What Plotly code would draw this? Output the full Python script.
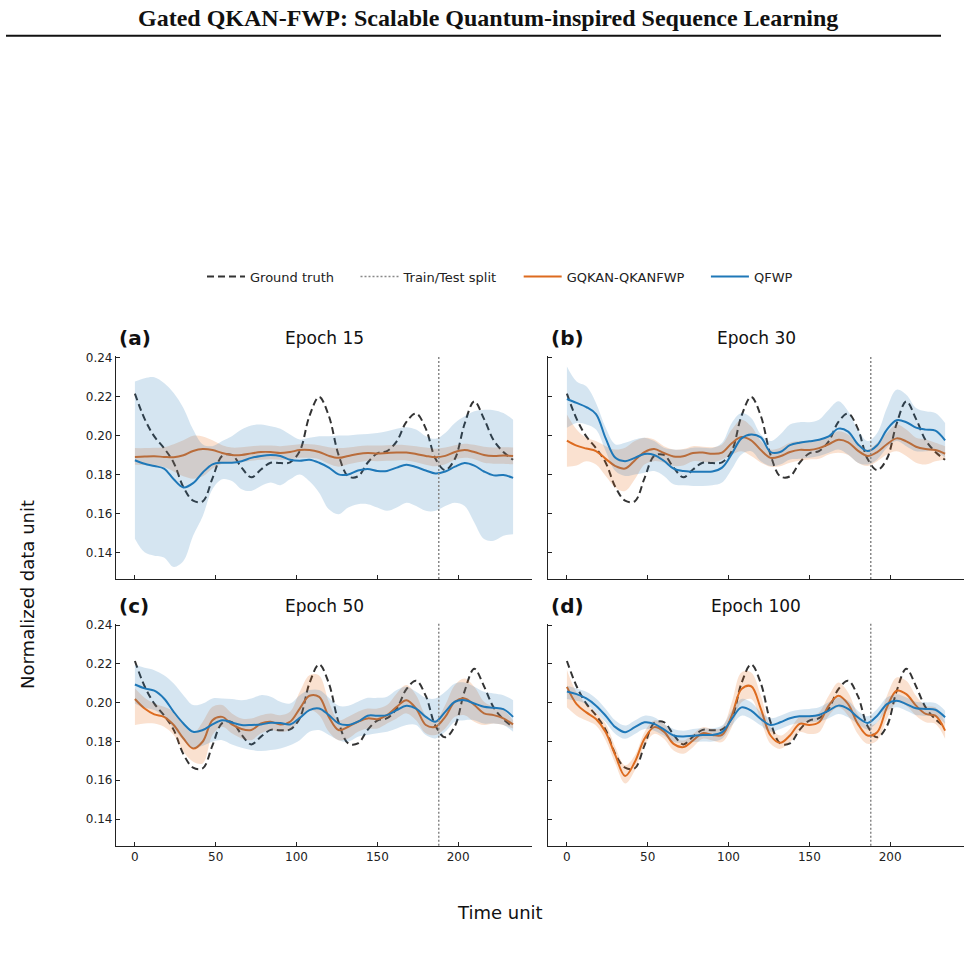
import plotly.graph_objects as go

# ---------------- data ----------------
T = list(range(0, 235, 6))  # time unit samples
SPLIT = 188
X_TICKS = [0, 50, 100, 150, 200]
Y_TICKS = [0.14, 0.16, 0.18, 0.20, 0.22, 0.24]
TITLES = ["Epoch 15", "Epoch 30", "Epoch 50", "Epoch 100"]
LABELS = ["(a)", "(b)", "(c)", "(d)"]

GT = [.2215, .2085, .1995, .1935, .1860, .1735, .1665, .1662, .1780, .1895,
      .1900, .1835, .1785, .1825, .1860, .1858, .1862, .1920, .2100, .2198,
      .2100, .1900, .1790, .1790, .1860, .1908, .1920, .1970, .2070, .2113,
      .2035, .1880, .1822, .1880, .2060, .2175, .2085, .1975, .1915, .1875]

# Panel (a) Epoch 15
A_GQ = [.1890, .1892, .1893, .1890, .1888, .1898, .1920, .1930, .1925, .1910,
        .1900, .1900, .1908, .1915, .1915, .1910, .1915, .1925, .1925, .1915,
        .1895, .1885, .1895, .1905, .1910, .1908, .1910, .1912, .1912, .1905,
        .1895, .1888, .1895, .1915, .1925, .1915, .1900, .1895, .1897, .1895]
A_GQ_HI = [.1935, .1935, .1937, .1940, .1955, .1975, .1998, .1995, .1975, .1950,
           .1938, .1940, .1945, .1948, .1948, .1945, .1950, .1955, .1955, .1950,
           .1940, .1935, .1938, .1945, .1948, .1948, .1950, .1952, .1950, .1945,
           .1938, .1932, .1938, .1950, .1958, .1952, .1942, .1938, .1940, .1938]
A_GQ_LO = [.1850, .1848, .1845, .1838, .1815, .1790, .1778, .1790, .1830, .1855,
           .1860, .1862, .1870, .1875, .1878, .1875, .1878, .1885, .1885, .1878,
           .1855, .1840, .1852, .1862, .1870, .1868, .1870, .1872, .1872, .1862,
           .1850, .1842, .1852, .1875, .1885, .1878, .1860, .1855, .1855, .1852]
A_QF = [.1873, .1855, .1843, .1830, .1775, .1733, .1755, .1810, .1852, .1860,
        .1860, .1868, .1885, .1895, .1900, .1895, .1875, .1870, .1875, .1860,
        .1835, .1800, .1800, .1820, .1828, .1818, .1818, .1835, .1850, .1838,
        .1820, .1805, .1815, .1840, .1858, .1845, .1815, .1795, .1797, .1782]
A_QF_HI = [.2277, .2294, .2299, .2269, .2218, .2141, .2030, .1954, .1945, .1971,
           .1996, .2030, .2051, .2056, .2047, .2034, .2005, .1979, .1988, .1996,
           .1996, .2000, .2000, .2005, .2008, .2013, .2022, .2034, .2042, .2030,
           .1996, .1983, .2013, .2064, .2098, .2124, .2132, .2130, .2115, .2081]
A_QF_LO = [.1470, .1400, .1383, .1374, .1325, .1355, .1485, .1587, .1724, .1775,
           .1766, .1724, .1715, .1741, .1758, .1745, .1775, .1800, .1765, .1706,
           .1621, .1596, .1630, .1647, .1647, .1630, .1613, .1630, .1655, .1638,
           .1613, .1613, .1638, .1655, .1638, .1553, .1468, .1460, .1485, .1493]

# Panel (b) Epoch 30
B_GQ = [.1974, .1948, .1933, .1920, .1880, .1843, .1830, .1872, .1915, .1930,
        .1910, .1892, .1893, .1910, .1912, .1906, .1912, .1960, .1992, .1975,
        .1925, .1885, .1893, .1915, .1926, .1925, .1935, .1955, .1978, .1965,
        .1922, .1895, .1915, .1955, .1985, .1970, .1942, .1930, .1925, .1906]
B_GQ_HI = [.2107, .2030, .1988, .1971, .1945, .1928, .1937, .1971, .1988, .1979,
           .1945, .1928, .1930, .1945, .1942, .1940, .1954, .2030, .2081, .2047,
           .1971, .1928, .1937, .1962, .1971, .1971, .1979, .1996, .2022, .2005,
           .1962, .1928, .1962, .2013, .2056, .2030, .1988, .1979, .1962, .1945]
B_GQ_LO = [.1839, .1846, .1868, .1851, .1792, .1732, .1715, .1775, .1851, .1868,
           .1860, .1843, .1846, .1868, .1865, .1862, .1877, .1902, .1919, .1894,
           .1860, .1839, .1842, .1860, .1870, .1877, .1880, .1902, .1911, .1900,
           .1860, .1843, .1868, .1902, .1919, .1894, .1860, .1851, .1868, .1877]
B_QF = [.2187, .2167, .2146, .2110, .1985, .1885, .1868, .1885, .1905, .1900,
        .1870, .1830, .1817, .1814, .1814, .1815, .1835, .1905, .1985, .2005,
        .1990, .1915, .1915, .1950, .1963, .1970, .1978, .1995, .2035, .2020,
        .1955, .1920, .1950, .2030, .2078, .2068, .2040, .2030, .2025, .1975]
B_QF_HI = [.2354, .2277, .2252, .2167, .2039, .1954, .1962, .1979, .1988, .1971,
           .1937, .1928, .1928, .1937, .1937, .1935, .1962, .2064, .2115, .2090,
           .2005, .1971, .2005, .2056, .2068, .2068, .2081, .2132, .2175, .2124,
           .2030, .1971, .2013, .2141, .2235, .2209, .2141, .2124, .2115, .2064]
B_QF_LO = [.2039, .2064, .2056, .2030, .1919, .1817, .1792, .1800, .1809, .1817,
           .1792, .1749, .1744, .1741, .1741, .1744, .1758, .1826, .1902, .1919,
           .1868, .1843, .1851, .1877, .1880, .1885, .1894, .1911, .1928, .1902,
           .1860, .1851, .1877, .1937, .1971, .1945, .1919, .1919, .1919, .1885]

# Panel (c) Epoch 50
C_GQ = [.2019, .1970, .1940, .1927, .1885, .1816, .1764, .1800, .1910, .1927,
        .1888, .1864, .1859, .1893, .1902, .1888, .1902, .1970, .2036, .2030,
        .1927, .1859, .1876, .1902, .1919, .1915, .1936, .1979, .2013, .1970,
        .1885, .1876, .1927, .2005, .2022, .1988, .1945, .1936, .1919, .1888]
C_GQ_HI = [.2074, .2025, .1996, .1979, .1953, .1885, .1842, .1902, .1979, .1988,
           .1945, .1919, .1919, .1936, .1945, .1936, .1953, .2056, .2142, .2140,
           .2005, .1910, .1927, .1953, .1970, .1970, .1988, .2048, .2091, .2039,
           .1936, .1910, .1988, .2091, .2125, .2082, .2005, .1979, .1962, .1910]
C_GQ_LO = [.1885, .1893, .1893, .1876, .1833, .1747, .1696, .1687, .1833, .1876,
           .1842, .1816, .1807, .1842, .1859, .1850, .1859, .1910, .1962, .1936,
           .1850, .1807, .1816, .1850, .1867, .1867, .1893, .1919, .1945, .1910,
           .1842, .1833, .1867, .1927, .1936, .1902, .1885, .1893, .1885, .1867]
C_QF = [.2094, .2074, .2062, .2022, .1953, .1893, .1850, .1859, .1888, .1910,
        .1898, .1885, .1885, .1888, .1897, .1895, .1888, .1922, .1962, .1970,
        .1936, .1893, .1885, .1902, .1933, .1933, .1936, .1962, .1984, .1970,
        .1927, .1902, .1953, .2005, .2013, .1996, .1979, .1974, .1967, .1927]
C_QF_HI = [.2194, .2180, .2168, .2142, .2099, .2039, .1988, .1996, .2022, .2022,
           .2019, .2013, .2022, .2039, .2031, .2005, .1996, .2039, .2065, .2065,
           .2025, .1984, .1984, .2005, .2025, .2025, .2031, .2065, .2082, .2056,
           .2025, .2022, .2056, .2099, .2104, .2082, .2056, .2048, .2039, .2013]
C_QF_LO = [.1996, .1974, .1962, .1927, .1867, .1807, .1764, .1778, .1799, .1807,
           .1785, .1768, .1756, .1751, .1756, .1764, .1781, .1807, .1850, .1859,
           .1833, .1807, .1799, .1824, .1833, .1842, .1850, .1867, .1885, .1885,
           .1833, .1816, .1850, .1902, .1910, .1910, .1893, .1893, .1885, .1850]

# Panel (d) Epoch 100
D_GQ = [.2082, .1993, .1950, .1916, .1848, .1728, .1622, .1694, .1814, .1874,
        .1851, .1788, .1771, .1805, .1843, .1834, .1834, .1933, .2070, .2085,
        .1968, .1831, .1793, .1831, .1891, .1885, .1899, .1985, .2036, .1993,
        .1891, .1831, .1848, .1976, .2062, .2044, .1985, .1942, .1933, .1856]
D_GQ_HI = [.2169, .2053, .1993, .1950, .1891, .1771, .1677, .1728, .1848, .1908,
           .1891, .1822, .1805, .1839, .1874, .1865, .1874, .2002, .2156, .2156,
           .2036, .1874, .1831, .1865, .1925, .1925, .1950, .2036, .2104, .2053,
           .1942, .1882, .1899, .2036, .2130, .2113, .2036, .1985, .1976, .1899]
D_GQ_LO = [.1976, .1933, .1908, .1882, .1805, .1685, .1583, .1651, .1779, .1839,
           .1814, .1754, .1737, .1771, .1814, .1805, .1797, .1874, .2002, .2019,
           .1908, .1788, .1762, .1797, .1848, .1839, .1848, .1933, .1976, .1933,
           .1839, .1788, .1805, .1916, .2002, .1985, .1933, .1899, .1891, .1814]
D_QF = [.2058, .2044, .2022, .1985, .1933, .1874, .1848, .1874, .1899, .1891,
        .1862, .1831, .1826, .1830, .1834, .1834, .1848, .1916, .1976, .1959,
        .1916, .1885, .1899, .1920, .1930, .1930, .1937, .1959, .1985, .1968,
        .1925, .1896, .1933, .1993, .2010, .1993, .1971, .1968, .1964, .1925]
D_QF_HI = [.2087, .2073, .2056, .2022, .1968, .1908, .1882, .1908, .1933, .1925,
           .1891, .1865, .1856, .1865, .1868, .1868, .1882, .1959, .2019, .2002,
           .1950, .1920, .1933, .1954, .1964, .1968, .1976, .2002, .2027, .2010,
           .1959, .1930, .1968, .2027, .2044, .2027, .2005, .2002, .1998, .1959]
D_QF_LO = [.2019, .2010, .1993, .1950, .1899, .1839, .1814, .1839, .1865, .1856,
           .1831, .1797, .1793, .1797, .1800, .1800, .1814, .1882, .1933, .1916,
           .1882, .1851, .1865, .1885, .1896, .1899, .1903, .1920, .1942, .1925,
           .1891, .1862, .1899, .1959, .1976, .1959, .1937, .1933, .1930, .1891]

PANELS = [
    (A_GQ, A_GQ_LO, A_GQ_HI, A_QF, A_QF_LO, A_QF_HI),
    (B_GQ, B_GQ_LO, B_GQ_HI, B_QF, B_QF_LO, B_QF_HI),
    (C_GQ, C_GQ_LO, C_GQ_HI, C_QF, C_QF_LO, C_QF_HI),
    (D_GQ, D_GQ_LO, D_GQ_HI, D_QF, D_QF_LO, D_QF_HI),
]

# ---------------- styles ----------------
W, H = 974, 968
GT_COLOR = "#333333"
GQ_COLOR = "#dd6b1f"
QF_COLOR = "#1f78b8"
GQ_FILL = "rgba(230,105,20,0.20)"
QF_FILL = "rgba(31,119,180,0.19)"
SPLIT_COLOR = "#888888"
FONT = "DejaVu Sans"
PAD = "\u00a0" * 4  # trailing spacing between legend entries

# plot-area pixel boxes (left, right, top, bottom)
BOXES = [(116, 532, 353, 577), (548, 964, 353, 577),
         (116, 532, 622, 845), (548, 964, 622, 845)]
XR = [-11.7, 245.7]
YR = [0.1263, 0.2407]

fig = go.Figure()
layout = dict(width=W, height=H, margin=dict(l=0, r=0, t=0, b=0),
              paper_bgcolor="white", plot_bgcolor="white",
              font=dict(family=FONT, color="#222222"), hovermode=False)

for i, (gq, gq_lo, gq_hi, qf, qf_lo, qf_hi) in enumerate(PANELS):
    xa = "x" if i == 0 else f"x{i+1}"
    ya = "y" if i == 0 else f"y{i+1}"
    first = i == 0
    common = dict(xaxis=xa, yaxis=ya, hoverinfo="skip")
    fig.add_trace(go.Scatter(x=T, y=GT, mode="lines", name="Ground truth" + PAD,
                             line=dict(color=GT_COLOR, width=2, dash="7px,4px", shape="spline"),
                             showlegend=first, legendrank=1, legendgroup="gt", **common))
    if first:
        fig.add_trace(go.Scatter(x=[None], y=[None], mode="lines", name="Train/Test split" + PAD,
                                 line=dict(color=SPLIT_COLOR, width=1.5, dash="2px,2px"),
                                 showlegend=True, legendrank=2, **common))
    fig.add_trace(go.Scatter(x=T, y=gq_lo, mode="lines", line=dict(width=0, shape="spline"),
                             showlegend=False, **common))
    fig.add_trace(go.Scatter(x=T, y=gq_hi, mode="lines", line=dict(width=0, shape="spline"),
                             fill="tonexty", fillcolor=GQ_FILL, showlegend=False, **common))
    fig.add_trace(go.Scatter(x=T, y=gq, mode="lines", name="GQKAN-QKANFWP" + PAD,
                             line=dict(color=GQ_COLOR, width=2, shape="spline"),
                             showlegend=first, legendrank=3, legendgroup="gq", **common))
    fig.add_trace(go.Scatter(x=T, y=qf_lo, mode="lines", line=dict(width=0, shape="spline"),
                             showlegend=False, **common))
    fig.add_trace(go.Scatter(x=T, y=qf_hi, mode="lines", line=dict(width=0, shape="spline"),
                             fill="tonexty", fillcolor=QF_FILL, showlegend=False, **common))
    fig.add_trace(go.Scatter(x=T, y=qf, mode="lines", name="QFWP",
                             line=dict(color=QF_COLOR, width=2, shape="spline"),
                             showlegend=first, legendrank=4, legendgroup="qf", **common))

    l, r, t, b = BOXES[i]
    axname_x = "xaxis" if i == 0 else f"xaxis{i+1}"
    axname_y = "yaxis" if i == 0 else f"yaxis{i+1}"
    layout[axname_x] = dict(domain=[l / W, r / W], range=XR, anchor=ya,
                            showline=True, linecolor="#222222", linewidth=1.2,
                            ticks="inside", ticklen=4, tickwidth=1, tickcolor="#222222",
                            tickvals=X_TICKS, showticklabels=(i >= 2),
                            tickfont=dict(size=12, family=FONT, color="#222222"),
                            showgrid=False, zeroline=False)
    layout[axname_y] = dict(domain=[1 - b / H, 1 - t / H], range=YR, anchor=xa,
                            showline=True, linecolor="#222222", linewidth=1.2,
                            ticks="inside", ticklen=4, tickwidth=1, tickcolor="#222222",
                            tickvals=Y_TICKS, tickformat=".2f", showticklabels=(i % 2 == 0),
                            tickfont=dict(size=12, family=FONT, color="#222222"),
                            showgrid=False, zeroline=False)

layout["legend"] = dict(orientation="h", x=500 / W, xanchor="center", y=1 - 273 / H,
                        yanchor="middle", font=dict(size=13, family=FONT, color="#222222"),
                        bgcolor="rgba(0,0,0,0)", traceorder="normal", itemwidth=38)

annotations = []
shapes = []
for i, (l, r, t, b) in enumerate(BOXES):
    xa = "x" if i == 0 else f"x{i+1}"
    ya = "y" if i == 0 else f"y{i+1}"
    shapes.append(dict(type="line", xref=xa, yref=f"{ya} domain", x0=SPLIT, x1=SPLIT,
                       y0=0, y1=1, line=dict(color=SPLIT_COLOR, width=1.5, dash="2px,2px")))
    annotations.append(dict(text=TITLES[i], xref="paper", yref="paper",
                            x=(l + r) / 2 / W, y=1 - (t - 18) / H, xanchor="center",
                            yanchor="middle", showarrow=False,
                            font=dict(size=17, family=FONT, color="#111111")))
    annotations.append(dict(text=f"<b>{LABELS[i]}</b>", xref="paper", yref="paper",
                            x=(l + 1) / W, y=1 - (t - 18) / H, xanchor="left",
                            yanchor="middle", showarrow=False,
                            font=dict(size=20, family=FONT, color="#111111")))

annotations.append(dict(text="Normalized data unit", xref="paper", yref="paper",
                        x=28 / W, y=1 - 593 / H, textangle=-90, showarrow=False,
                        xanchor="center", yanchor="middle",
                        font=dict(size=18, family=FONT, color="#111111")))
annotations.append(dict(text="Time unit", xref="paper", yref="paper",
                        x=500 / W, y=1 - 912 / H, showarrow=False,
                        xanchor="center", yanchor="middle",
                        font=dict(size=18, family=FONT, color="#111111")))
annotations.append(dict(text="<b>Gated QKAN-FWP: Scalable Quantum-inspired Sequence Learning</b>",
                        xref="paper", yref="paper", x=487.5 / W, y=1 - 13 / H,
                        showarrow=False, xanchor="center", yanchor="middle",
                        font=dict(size=24, family="Liberation Serif", color="#111111")))
shapes.append(dict(type="line", xref="paper", yref="paper", x0=6 / W, x1=941 / W,
                   y0=1 - 31 / H, y1=1 - 31 / H, line=dict(color="#111111", width=2)))

layout["annotations"] = annotations
layout["shapes"] = shapes
fig.update_layout(**layout)

fig.write_html("out.html")
